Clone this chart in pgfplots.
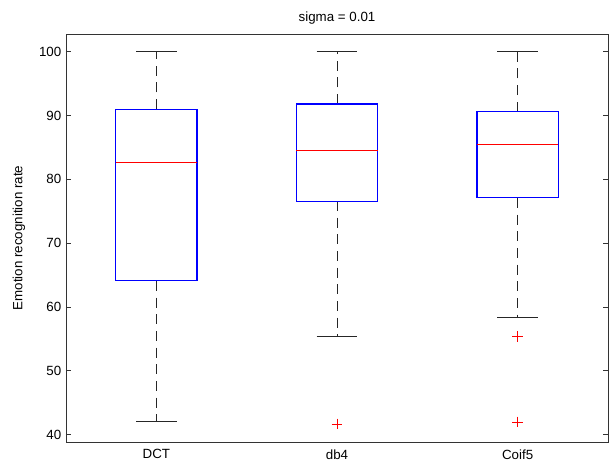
\documentclass[border=0pt]{standalone}
\usepackage{fontspec}
\setmainfont{Liberation Sans}
\usepackage{pgfplots}
\pgfplotsset{compat=1.18}

\begin{document}
\begin{tikzpicture}
\begin{axis}[
    scale only axis,
    width=406.5pt,
    height=306pt,
    xmin=0.5, xmax=3.5,
    ymin=38.86, ymax=102.77,
    xtick={1,2,3},
    xticklabels={DCT,db4,Coif5},
    xtick style={draw=none},
    xticklabel style={yshift=-2pt},
    ytick={40,50,...,100},
    ytick pos=both,
    tick align=inside,
    major tick length=4pt,
    axis line style={black!80,line width=0.6pt},
    every tick/.style={black!80,line width=0.6pt},
    tick label style={font=\fontsize{10}{12}\selectfont},
    /pgf/number format/assume math mode=true,
    ylabel={Emotion recognition rate},
    ylabel style={font=\fontsize{10}{12}\selectfont, yshift=3.5pt},
    title={sigma = 0.01},
    title style={font=\fontsize{10}{12}\selectfont, yshift=-2pt},
    unbounded coords=jump,
    clip=false,
]
% whisker stems
\addplot[black!85, line width=0.7pt, mark=none, dash pattern=on 7.5pt off 5pt] coordinates {
    (1,91.0) (1,100) (1,nan) (1,64.1) (1,42.0) (1,nan)
    (2,91.8) (2,100) (2,nan) (2,76.6) (2,55.4) (2,nan)
    (3,90.6) (3,100) (3,nan) (3,77.1) (3,58.3)
};
% whisker caps
\addplot[black!85, line width=0.7pt, mark=none] coordinates {
    (0.8875,100) (1.1125,100) (1,nan) (0.8875,42.0) (1.1125,42.0) (1,nan)
    (1.8875,100) (2.1125,100) (2,nan) (1.8875,55.4) (2.1125,55.4) (2,nan)
    (2.8875,100) (3.1125,100) (3,nan) (2.8875,58.3) (3.1125,58.3)
};
% boxes (q1 -> q3), width 0.45
\addplot[blue, line width=0.85pt, mark=none] coordinates {
    (0.775,64.1) (1.225,64.1) (1.225,91.0) (0.775,91.0) (0.775,64.1) (1,nan)
    (1.775,76.6) (2.225,76.6) (2.225,91.8) (1.775,91.8) (1.775,76.6) (2,nan)
    (2.775,77.1) (3.225,77.1) (3.225,90.6) (2.775,90.6) (2.775,77.1)
};
% medians
\addplot[red, line width=0.7pt, mark=none] coordinates {
    (0.775,82.6) (1.225,82.6) (1,nan)
    (1.775,84.6) (2.225,84.6) (2,nan)
    (2.775,85.5) (3.225,85.5)
};
% outliers
\addplot[only marks, mark=+, mark size=4pt, red, line width=0.5pt] coordinates {
    (2,41.7) (3,55.4) (3,42.0)
};
\end{axis}
\pgfresetboundingbox
\path[use as bounding box]
  ([xshift=-49.5pt,yshift=-18pt]current axis.south west) rectangle
  ([xshift=0.75pt,yshift=25.5pt]current axis.north east);
\end{tikzpicture}
\end{document}
